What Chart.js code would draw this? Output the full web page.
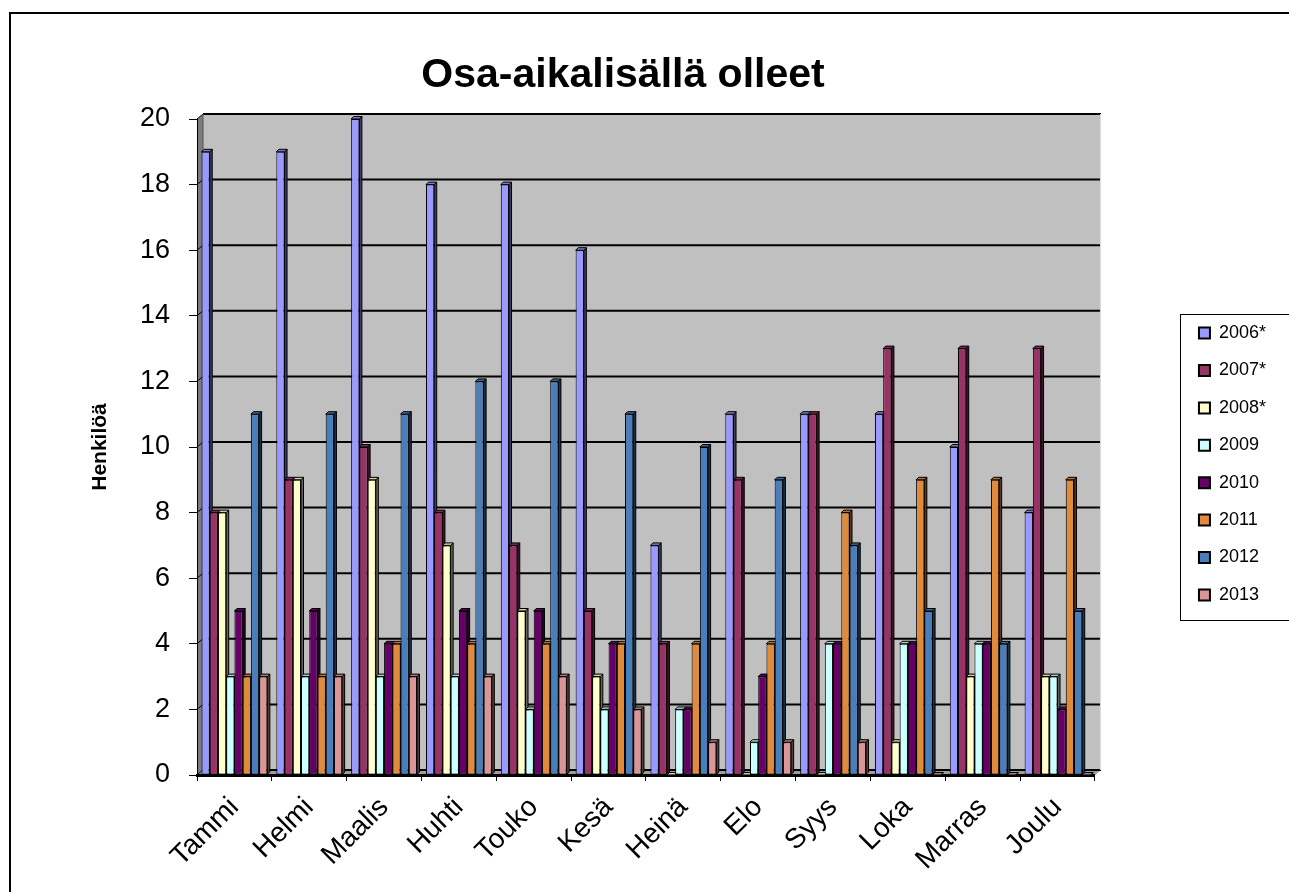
<!DOCTYPE html>
<html>
<head>
<meta charset="utf-8">
<script src="https://cdn.jsdelivr.net/npm/chart.js@4"></script>
<style>
html, body { margin: 0; padding: 0; background: #fff; overflow: hidden; width: 1289px; height: 892px; }
#frame { position: absolute; left: 9px; top: 12px; width: 1400px; height: 1000px; border: 2px solid #000; }
#myChart { position: absolute; left: -30px; top: 0; }
</style>
</head>
<body>
<div id="frame"></div>
<canvas id="myChart" width="1360" height="928"></canvas>
<script>
var months = ["Tammi", "Helmi", "Maalis", "Huhti", "Touko", "Kesä", "Heinä", "Elo", "Syys", "Loka", "Marras", "Joulu"];
var years = ["2006*", "2007*", "2008*", "2009", "2010", "2011", "2012", "2013"];
var d2006 = [19, 19, 20, 18, 18, 16, 7, 11, 11, 11, 10, 8];
var d2007 = [8, 9, 10, 8, 7, 5, 4, 9, 11, 13, 13, 13];
var d2008 = [8, 9, 9, 7, 5, 3, 0, 0, 0, 1, 3, 3];
var d2009 = [3, 3, 3, 3, 2, 2, 2, 1, 4, 4, 4, 3];
var d2010 = [5, 5, 4, 5, 5, 4, 2, 3, 4, 4, 4, 2];
var d2011 = [3, 3, 4, 4, 4, 4, 4, 4, 8, 9, 9, 9];
var d2012 = [11, 11, 11, 12, 12, 11, 10, 9, 7, 5, 4, 5];
var d2013 = [3, 3, 3, 3, 3, 2, 1, 1, 1, 0, 0, 0];
var yTicks = [0, 2, 4, 6, 8, 10, 12, 14, 16, 18, 20];

var colors = ['#9999FF', '#993366', '#FFFFCC', '#CCFFFF', '#660066', '#E08A3C', '#4A7EBB', '#D99694'];
var series = [d2006, d2007, d2008, d2009, d2010, d2011, d2012, d2013];

function shade(hex, f) {
  var n = parseInt(hex.slice(1), 16);
  var r = Math.round(((n >> 16) & 255) * f), g = Math.round(((n >> 8) & 255) * f), b = Math.round((n & 255) * f);
  return 'rgb(' + Math.min(r, 255) + ',' + Math.min(g, 255) + ',' + Math.min(b, 255) + ')';
}

function poly(ctx, pts) {
  ctx.beginPath();
  ctx.moveTo(pts[0][0], pts[0][1]);
  for (var i = 1; i < pts.length; i++) ctx.lineTo(pts[i][0], pts[i][1]);
  ctx.closePath();
}

// grey back wall, side wall and floor behind the bars
var wall3d = {
  id: 'wall3d',
  beforeDraw: function(chart) {
    var ctx = chart.ctx, a = chart.chartArea, y = chart.scales.y, dx = 6, dy = 5;
    ctx.save();
    ctx.fillStyle = '#c0c0c0';
    ctx.fillRect(a.left + dx, a.top - dy, a.right - a.left, a.bottom - a.top);
    ctx.fillStyle = '#7c7c7c';
    poly(ctx, [[a.left, a.top], [a.left + dx, a.top - dy], [a.left + dx, a.bottom - dy], [a.left, a.bottom]]);
    ctx.fill();
    ctx.fillStyle = '#9c9c9c';
    poly(ctx, [[a.left, a.bottom], [a.left + dx, a.bottom - dy], [a.right + dx, a.bottom - dy], [a.right, a.bottom]]);
    ctx.fill();
    ctx.strokeStyle = '#000';
    yTicks.forEach(function(v) {
      var py = y.getPixelForValue(v);
      ctx.lineWidth = 2;
      ctx.beginPath();
      ctx.moveTo(a.left + dx, py - dy);
      ctx.lineTo(a.right + dx, py - dy);
      ctx.stroke();
      ctx.lineWidth = 1;
      ctx.beginPath();
      ctx.moveTo(a.left, py);
      ctx.lineTo(a.left + dx, py - dy);
      ctx.stroke();
    });
    ctx.lineWidth = 1;
    ctx.strokeStyle = '#555';
    ctx.beginPath();
    ctx.moveTo(a.left + dx, a.bottom - dy);
    ctx.lineTo(a.left + dx, a.top - dy);
    ctx.stroke();
    ctx.strokeStyle = '#e0e0e0';
    ctx.beginPath();
    ctx.moveTo(a.right + dx - 0.5, a.top - dy);
    ctx.lineTo(a.right + dx - 0.5, a.bottom - dy);
    ctx.stroke();
    ctx.restore();
  }
};

// side and top faces of each bar, drawn before the fronts so neighbours cover them
var bars3d = {
  id: 'bars3d',
  beforeDatasetsDraw: function(chart) {
    var ctx = chart.ctx, dx = 2.5, dy = 2.5;
    ctx.save();
    ctx.lineWidth = 1;
    ctx.strokeStyle = '#000';
    chart.data.datasets.forEach(function(ds, i) {
      chart.getDatasetMeta(i).data.forEach(function(bar) {
        var p = bar.getProps(['x', 'y', 'base', 'width'], true);
        var l = p.x - p.width / 2, r = p.x + p.width / 2, t = Math.min(p.y, p.base), b = p.base;
        ctx.fillStyle = shade(ds.backgroundColor, 0.4);
        poly(ctx, [[r, t], [r + dx, t - dy], [r + dx, b - dy], [r, b]]);
        ctx.fill();
        ctx.stroke();
        ctx.fillStyle = shade(ds.backgroundColor, 0.8);
        poly(ctx, [[l, t], [l + dx, t - dy], [r + dx, t - dy], [r, t]]);
        ctx.fill();
        ctx.stroke();
      });
    });
    ctx.restore();
  }
};

var legendBox = {
  id: 'legendBox',
  afterDraw: function(chart) {
    var lg = chart.legend, ctx = chart.ctx, pad = lg.options.labels.padding;
    var colH = lg.columnSizes[0].height;
    var y0 = (lg.top + pad + lg.bottom - colH) / 2;
    var top = Math.round(y0 - 10), bottom = Math.round(y0 + colH - pad + 16);
    ctx.save();
    ctx.strokeStyle = '#000';
    ctx.lineWidth = 1;
    ctx.strokeRect(Math.round(lg.left) + 0.5, top + 0.5, chart.width, bottom - top);
    ctx.restore();
  }
};

var datasets = years.map(function(yr, i) {
  return {
    label: yr,
    data: series[i],
    backgroundColor: colors[i],
    borderColor: '#000',
    borderWidth: 1,
    borderSkipped: false,
    categoryPercentage: 0.88,
    barPercentage: 1.0
  };
});

Chart.defaults.font.family = "'Liberation Sans', Arial, sans-serif";
Chart.defaults.color = '#000';

var config = {
  type: 'bar',
  data: { labels: months, datasets: datasets },
  options: {
    responsive: false,
    animation: false,
    devicePixelRatio: 1,
    layout: { padding: { left: 0, right: 54, top: 0, bottom: 0 } },
    plugins: {
      title: {
        display: true,
        text: 'Osa-aikalisällä olleet',
        font: { size: 41, weight: 'bold' },
        padding: { top: 51, bottom: 18.8 }
      },
      legend: {
        position: 'right',
        labels: {
          font: { size: 18 },
          boxWidth: 11,
          boxHeight: 11,
          padding: 19.4,
          generateLabels: function(chart) {
            return Chart.defaults.plugins.legend.labels.generateLabels(chart).map(function(l) {
              l.lineWidth = 2;
              l.strokeStyle = '#000';
              return l;
            });
          }
        }
      },
      tooltip: { enabled: false }
    },
    scales: {
      x: {
        offset: true,
        grid: { display: true, offset: true, drawOnChartArea: false, drawTicks: true, tickLength: 6, color: '#000' },
        border: { display: true, color: '#000', width: 3 },
        ticks: { font: { size: 28 }, maxRotation: 45, minRotation: 45, autoSkip: false, padding: 10 },
        afterFit: function(s) { s.height = 153; }
      },
      y: {
        min: 0,
        max: 20,
        afterBuildTicks: function(s) { s.ticks = yTicks.map(function(v) { return { value: v }; }); },
        grid: { display: true, drawOnChartArea: false, drawTicks: true, tickLength: 8, color: '#000' },
        border: { display: true, color: '#000', width: 1 },
        ticks: { font: { size: 27 }, padding: 19 },
        title: {
          display: true,
          text: 'Henkilöä',
          font: { size: 21, weight: 'bold' },
          padding: { top: 117.4, bottom: 0 }
        },
        afterFit: function(s) { s.width = 227; }
      },
      gap: {
        type: 'linear',
        position: 'right',
        display: true,
        grid: { display: false },
        border: { display: false },
        ticks: { display: false },
        afterFit: function(s) { s.width = 84.6; }
      }
    }
  },
  plugins: [wall3d, bars3d, legendBox]
};

var ctx = document.getElementById('myChart').getContext('2d');
var myChart = new Chart(ctx, config);
</script>
</body>
</html>
